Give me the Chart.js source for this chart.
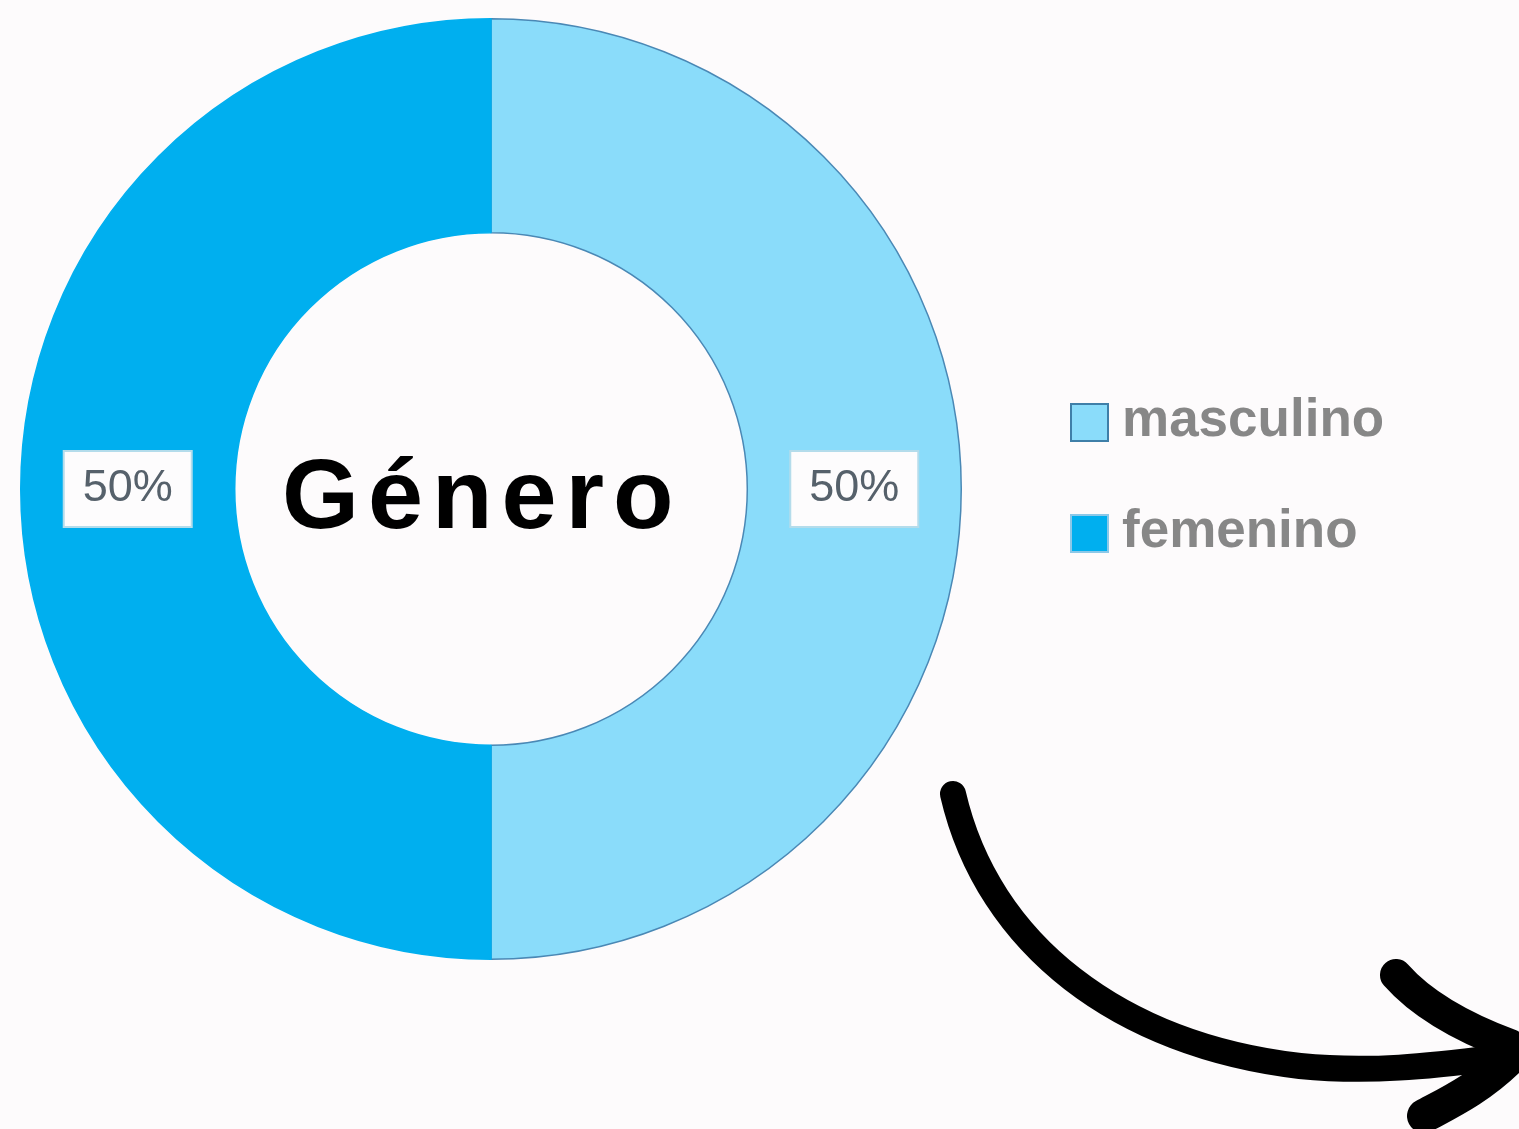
<!DOCTYPE html>
<html lang="es">
<head>
<meta charset="utf-8">
<title>Género</title>
<script src="https://cdn.jsdelivr.net/npm/chart.js@4/dist/chart.umd.min.js"></script>
<style>
    html, body { margin: 0; padding: 0; background: #FDFBFC; }
    canvas { display: block; }
</style>
</head>
<body>
<canvas id="generoChart" width="1519" height="1129"></canvas>
<script>
const LABELS = ['masculino', 'femenino'];
const VALUES = [50, 50];
const COLORS = ['#8ADCFA', '#00AFEF'];
const BORDERS = ['#4A88B5', '#00AFEF'];
const LEGEND_BORDERS = ['#3F7FA8', '#8CC8E8'];
const CENTER_TITLE = 'Género';

// etiquetas "50%" en cajas blancas sobre cada arco
const boxLabels = {
    id: 'boxLabels',
    afterDatasetsDraw(chart) {
        const { ctx } = chart;
        const meta = chart.getDatasetMeta(0);
        const data = chart.data.datasets[0].data;
        const total = data.reduce((a, b) => a + b, 0);
        ctx.save();
        ctx.font = '45px "Liberation Sans", Arial, sans-serif';
        ctx.textAlign = 'center';
        ctx.textBaseline = 'middle';
        meta.data.forEach((arc, i) => {
            const pos = arc.tooltipPosition();
            const text = Math.round(data[i] / total * 100) + '%';
            const w = 128, h = 76;
            ctx.fillStyle = '#FDFCFD';
            ctx.fillRect(pos.x - w / 2, pos.y - h / 2, w, h);
            ctx.lineWidth = 2;
            ctx.strokeStyle = '#B4DCEB';
            ctx.strokeRect(pos.x - w / 2, pos.y - h / 2, w, h);
            ctx.fillStyle = '#56616B';
            ctx.fillText(text, pos.x, pos.y);
        });
        ctx.restore();
    },
};

// título en el hueco central, con espaciado de letras
const centerTitle = {
    id: 'centerTitle',
    afterDraw(chart) {
        const { ctx } = chart;
        ctx.save();
        ctx.font = 'bold 99px "Liberation Sans", Arial, sans-serif';
        ctx.fillStyle = '#000000';
        ctx.textBaseline = 'alphabetic';
        const spacing = 9;
        let x = 282;
        for (const ch of CENTER_TITLE) {
            ctx.fillText(ch, x, 528);
            x += ctx.measureText(ch).width + spacing;
        }
        ctx.restore();
    },
};

// leyenda a la derecha
const sideLegend = {
    id: 'sideLegend',
    afterDraw(chart) {
        const { ctx } = chart;
        const ds = chart.data.datasets[0];
        ctx.save();
        ctx.font = 'bold 53px "Liberation Sans", Arial, sans-serif';
        ctx.textBaseline = 'alphabetic';
        chart.data.labels.forEach((label, i) => {
            const baseline = 436 + i * 111;
            const top = baseline - 32;
            ctx.fillStyle = ds.backgroundColor[i];
            ctx.fillRect(1071, top, 37, 37);
            ctx.lineWidth = 2;
            ctx.strokeStyle = LEGEND_BORDERS[i];
            ctx.strokeRect(1071, top, 37, 37);
            ctx.fillStyle = '#878787';
            ctx.fillText(label, 1122, baseline);
        });
        ctx.restore();
    },
};

// flecha decorativa abajo a la derecha
const arrowDecor = {
    id: 'arrowDecor',
    afterDraw(chart) {
        const { ctx } = chart;
        ctx.save();
        ctx.strokeStyle = '#000000';
        ctx.lineCap = 'round';
        ctx.lineJoin = 'round';

        ctx.beginPath();
        ctx.moveTo(953, 794);
        ctx.bezierCurveTo(988, 945, 1120, 1045, 1300, 1066);
        ctx.bezierCurveTo(1370, 1073, 1430, 1066, 1495, 1058);
        ctx.lineWidth = 26;
        ctx.stroke();

        ctx.beginPath();
        ctx.moveTo(1396, 975);
        ctx.bezierCurveTo(1425, 1008, 1470, 1030, 1510, 1045);
        ctx.lineWidth = 32;
        ctx.stroke();

        ctx.beginPath();
        ctx.moveTo(1510, 1058);
        ctx.bezierCurveTo(1480, 1088, 1448, 1103, 1424, 1116);
        ctx.lineWidth = 34;
        ctx.stroke();
        ctx.restore();
    },
};

new Chart(document.getElementById('generoChart').getContext('2d'), {
    type: 'doughnut',
    data: {
        labels: LABELS,
        datasets: [{
            data: VALUES,
            backgroundColor: COLORS,
            borderColor: BORDERS,
            borderWidth: 1.5,
        }],
    },
    options: {
        responsive: false,
        animation: false,
        cutout: '54.5%',
        layout: {
            padding: { left: 20, top: 18, right: 557, bottom: 169 },
        },
        plugins: {
            legend: { display: false },
            tooltip: { enabled: false },
        },
    },
    plugins: [boxLabels, centerTitle, sideLegend, arrowDecor],
});
</script>
</body>
</html>
